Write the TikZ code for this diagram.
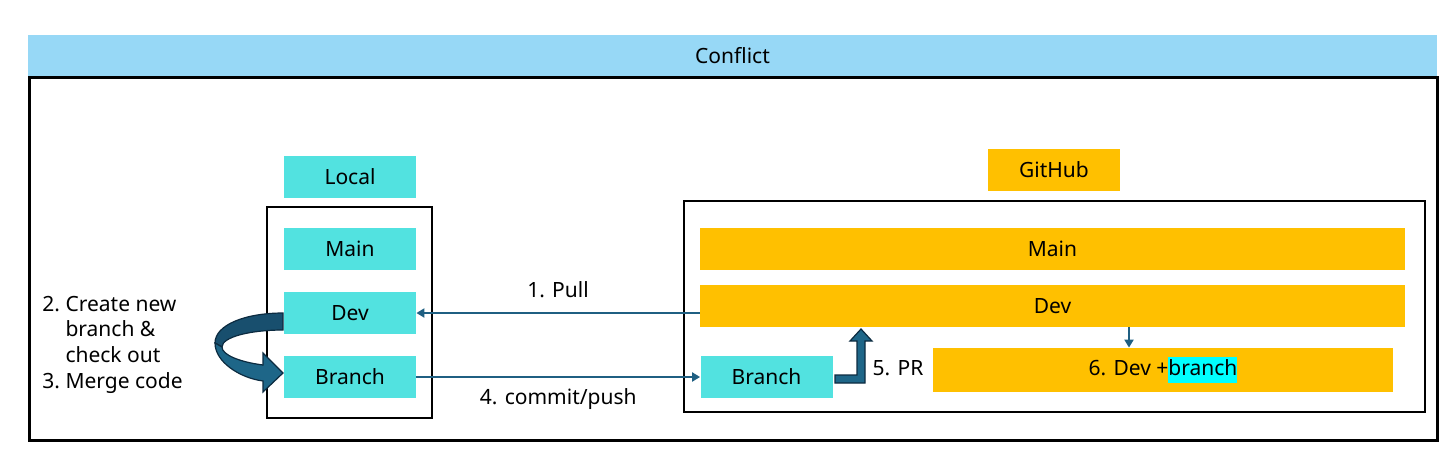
\documentclass[tikz,border=0pt]{standalone}
\usepackage{fontspec}
\setmainfont{Noto Sans}
\usetikzlibrary{arrows.meta}

\definecolor{barblue}{HTML}{97D8F6}
\definecolor{localcyan}{HTML}{52E2E0}
\definecolor{ghorange}{HTML}{FFC000}
\definecolor{hlcyan}{HTML}{00FFFF}
\definecolor{linkblue}{HTML}{1F5F82}
\definecolor{blockblue}{HTML}{1E6688}
\definecolor{blockdark}{HTML}{184F6E}
\definecolor{blockedge}{HTML}{0C2B40}

\tikzset{
    bar/.style={fill=barblue, minimum width=704.5pt, minimum height=20.5pt, inner sep=0pt},
    localbox/.style={fill=localcyan, minimum width=66pt, minimum height=21pt, inner sep=0pt},
    ghbox/.style={fill=ghorange, minimum height=21pt, inner sep=0pt},
    conn/.style={draw=linkblue, line width=1pt, -{Triangle[length=4pt,width=4.5pt]}},
    frame/.style={draw=black, line width=1.3pt},
    blockarrow/.style={fill=blockblue, draw=blockedge, line width=0.6pt}
}

\begin{document}
\begin{tikzpicture}[x=0.5pt,y=-0.5pt,font=\fontsize{10.5}{12.85}\selectfont]
            \useasboundingbox (0,0) rectangle (1445,451);
            \node[bar] (conflict) at (732.5,55.5) {Conflict};
            \draw[frame, line width=1.5pt] (29,77) rectangle (1437,440);

            \node[localbox] (local) at (350,177) {Local};
            \draw[frame] (267,207) rectangle (432,418);
            \node[localbox] (lmain) at (350,249) {Main};
            \node[localbox] (ldev) at (350,313) {Dev};
            \node[localbox] (lbranch) at (350,377) {Branch};

            \node[ghbox, minimum width=66pt] (github) at (1054,170) {GitHub};
            \draw[frame] (684,201) rectangle (1425,412);
            \node[ghbox, minimum width=352.5pt] (gmain) at (1052.5,249) {Main};
            \node[ghbox, minimum width=352.5pt] (gdev) at (1052.5,306) {Dev};
            \node[localbox] (gbranch) at (766.5,377) {Branch};
            \node[ghbox, minimum width=230pt, minimum height=22pt] (merged) at (1163,370)
                {6. Dev~+{\setlength{\fboxsep}{0pt}\colorbox{hlcyan}{\strut branch}}};

            \node[anchor=west, inner sep=0pt] (steps) at (42,344.5)
                {\begin{tabular}{@{}l@{~}l@{}}2. & Create new\\ & branch \&\\ & check out\\ 3. & Merge code\end{tabular}};
            \node (pr) at (898,368) {5. PR};

            \draw[conn] (ldev.east -| gdev.west) -- node[above=4pt, text=black] {1. Pull} (ldev.east);
            \draw[conn] (lbranch.east) -- node[below=2pt, text=black] {4. commit/push} (gbranch.west);
            \draw[conn] ([xshift=-17pt]merged.north |- gdev.south) -- ([xshift=-17pt]merged.north);

            \filldraw[blockarrow, fill=blockdark] (283,313) .. controls (245,313) and (215,325) .. (215,343)
                -- (222,347) .. controls (222,337) and (250,330) .. (283,330) -- cycle;
            \filldraw[blockarrow] (215,343) .. controls (215,362) and (240,378) .. (263,381)
                -- (263,392) -- (283,373) -- (263,353) -- (263,365)
                .. controls (240,362) and (222,355) .. (222,347) -- cycle;
            \filldraw[blockarrow] (835,375) -- (857,375) -- (857,341) -- (850,341) -- (861,329)
                -- (872,341) -- (865,341) -- (865,383) -- (835,383) -- cycle;
        \end{tikzpicture}
\end{document}
